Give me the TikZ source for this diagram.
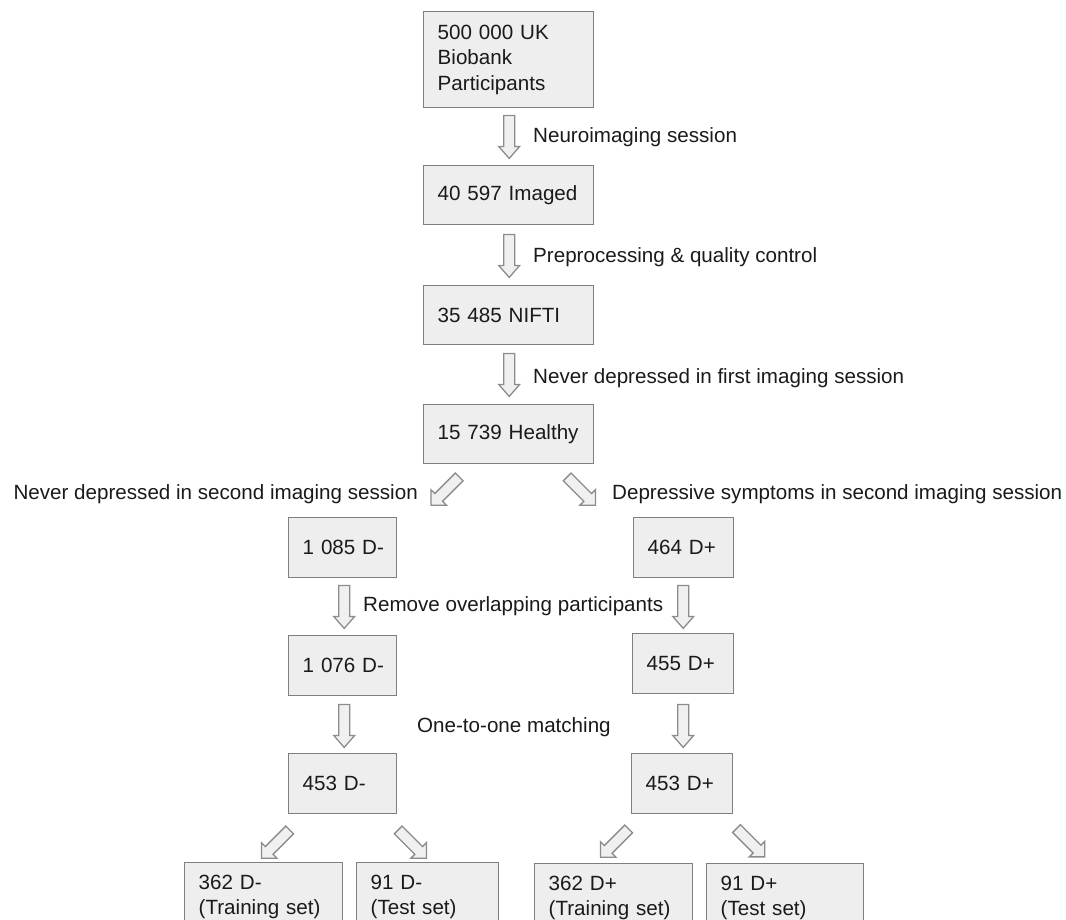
\documentclass[tikz,border=0pt]{standalone}
\usepackage{fontspec}
\setmainfont{Liberation Sans}
\usetikzlibrary{calc}
\definecolor{boxfill}{HTML}{EEEEEE}
\definecolor{boxline}{HTML}{7F7F7F}
\definecolor{arrfill}{HTML}{F0F0F0}
\definecolor{arrline}{HTML}{8C8C8C}
\definecolor{txt}{HTML}{1A1A1A}
\hfuzz=50pt
% #1 node anchor, #2 offset, #3 angle, #4 length, #5 head length, #6 head half width, #7 shaft half width
\newcommand{\blockarr}[7]{\draw[barrow, shift={(#1)}, shift={(#2)}, rotate=#3]
  (0,-#7) -- ({#4-#5},-#7) -- ({#4-#5},-#6) -- (#4,0) -- ({#4-#5},#6) -- ({#4-#5},#7) -- (0,#7) -- cycle;}
\begin{document}
\begin{tikzpicture}[x=1pt,y=-1pt,
  font=\fontsize{20.6}{25.5}\selectfont, text=txt,
  box/.style={draw=boxline, fill=boxfill, line width=1.4pt, anchor=north west,
    align=left, inner xsep=14pt, inner ysep=0pt},
  tallbox/.style={box, inner ysep=12.4pt},
  barrow/.style={draw=arrline, fill=arrfill, line width=1.3pt, line join=miter},
  lbl/.style={inner sep=0pt}]
\useasboundingbox (0,0) rectangle (1066,919);
\clip (0,0) rectangle (1066,919);

% main column
\node[box, text width=142pt, minimum height=96pt] (b1) at (423,11) {\mbox{500 000 UK}\\Biobank\\Participants};
\node[box, text width=142pt, minimum height=59pt] (b2) at (423,165) {\mbox{40 597 Imaged}};
\node[box, text width=142pt, minimum height=59pt] (b3) at (423,285) {\mbox{35 485 NIFTI}};
\node[box, text width=142pt, minimum height=59pt] (b4) at (423,404) {\mbox{15 739 Healthy}};

% D- branch
\node[box, text width=80pt, minimum height=60pt] (dm1) at (288,517) {\mbox{1 085 D-}};
\node[box, text width=80pt, minimum height=60pt] (dm2) at (288,635) {\mbox{1 076 D-}};
\node[box, text width=80pt, minimum height=60pt] (dm3) at (288,753) {\mbox{453 D-}};

% D+ branch
\node[box, text width=72pt, minimum height=60pt] (dp1) at (633,517) {\mbox{464 D+}};
\node[box, text width=73pt, minimum height=60pt] (dp2) at (632,633) {\mbox{455 D+}};
\node[box, text width=73pt, minimum height=60pt] (dp3) at (631,753) {\mbox{453 D+}};

% bottom sets
\node[tallbox, text width=130pt] (tm) at (184,862) {\mbox{362 D-}\\\mbox{(Training set)}};
\node[tallbox, text width=114pt] (sm) at (356,862) {\mbox{91 D-}\\\mbox{(Test set)}};
\node[tallbox, text width=130pt] (tp) at (534,863) {\mbox{362 D+}\\\mbox{(Training set)}};
\node[tallbox, text width=129pt] (sp) at (706,863) {\mbox{91 D+}\\\mbox{(Test set)}};

% labels
\node[lbl, anchor=base west] (l1) at (533,142.5) {Neuroimaging session};
\node[lbl, anchor=base west] (l2) at (533,262) {Preprocessing \& quality control};
\node[lbl, anchor=base west] (l3) at (533,383) {Never depressed in first imaging session};
\node[lbl, anchor=base east] (l4) at (418,499) {Never depressed in second imaging session};
\node[lbl, anchor=base west] (l5) at (612,499) {Depressive symptoms in second imaging session};
\node[lbl, anchor=base west] (l6) at (363,611) {Remove overlapping participants};
\node[lbl, anchor=base west] (l7) at (417,732) {One-to-one matching};

% vertical block arrows
\blockarr{b1.south}{0.5,7}{-90}{43}{12}{10.5}{5.5}
\blockarr{b2.south}{0.5,9}{-90}{43}{12}{10.5}{5.5}
\blockarr{b3.south}{0.5,8}{-90}{43}{12}{10.5}{5.5}
\blockarr{dm1.south}{1.5,7}{-90}{43}{12}{10.5}{5.5}
\blockarr{dp1.south}{-0.5,7}{-90}{43}{12}{10.5}{5.5}
\blockarr{dm2.south}{1.5,8}{-90}{43}{12}{10.5}{5.5}
\blockarr{dp2.south}{0,10}{-90}{43}{12}{10.5}{5.5}

% diagonal block arrows
\blockarr{b4.south}{-49.5,12.5}{-135}{40}{11}{11}{5.5}
\blockarr{b4.south}{58.5,12.5}{-45}{40}{11}{11}{5.5}
\blockarr{dm3.south}{-53,15.5}{-135}{40}{11}{11}{5.5}
\blockarr{dm3.south}{55.5,15.5}{-45}{40}{11}{11}{5.5}
\blockarr{dp3.south}{-53.5,14.5}{-135}{40}{11}{11}{5.5}
\blockarr{dp3.south}{54.3,14.2}{-45}{40}{11}{11}{5.5}
\end{tikzpicture}
\end{document}
